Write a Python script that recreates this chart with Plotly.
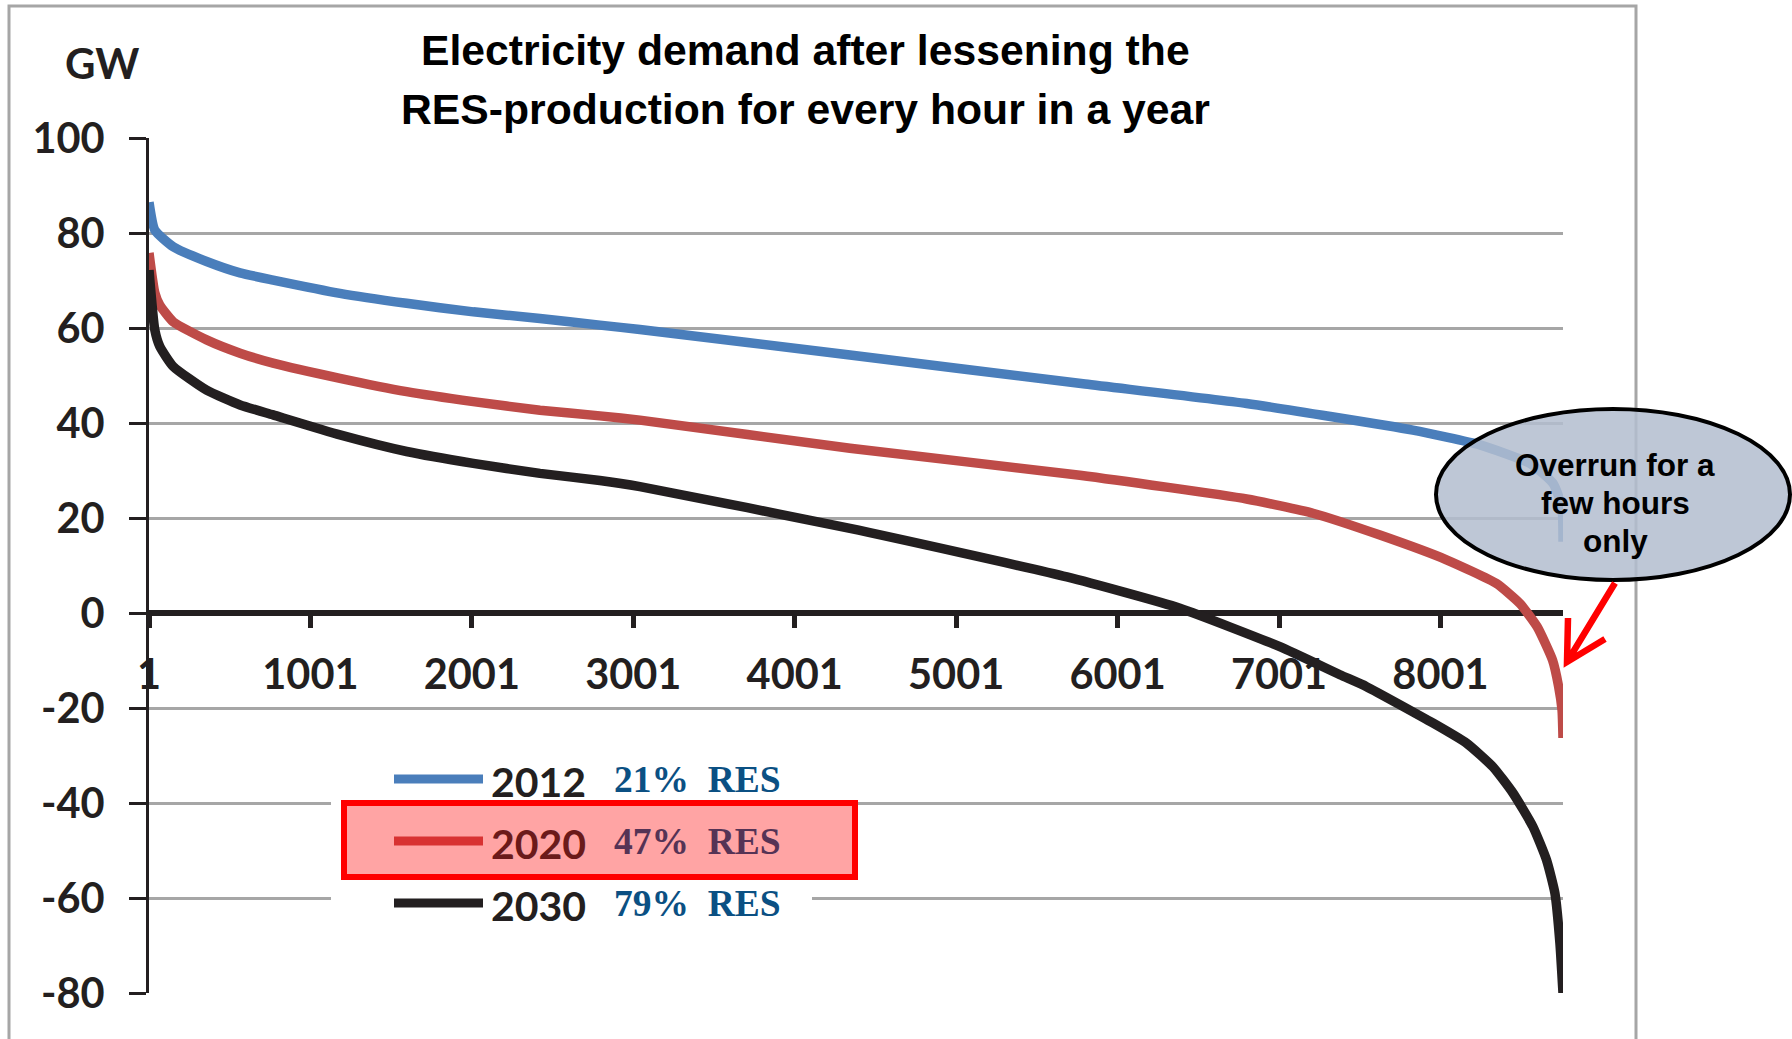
import plotly.graph_objects as go

# Residual load duration curves: hour of the year (sorted) vs. demand minus RES output
hours_2012 = [1, 37, 151, 358, 565, 770, 1184, 1597, 2010, 2423, 2794, 3042,
              4343, 5800, 6800, 7830, 8245, 8555, 8698, 8753, 8760]
gw_2012 = [86.5, 80.6, 77.1, 74, 71.6, 70.1, 67.3, 65.2, 63.4, 62, 60.6, 59.7,
           54.3, 48.2, 44.1, 38.5, 35.4, 31.5, 27.3, 22.4, 15]

hours_2020 = [1, 37, 68, 151, 358, 565, 770, 1184, 1597, 2010, 2423, 2794,
              3042, 4343, 5767, 6800, 7211, 7626, 8038, 8348, 8493, 8600, 8695,
              8733, 8754, 8760]
gw_2020 = [75.8, 67.4, 64.8, 61.3, 57.5, 54.7, 52.6, 49.4, 46.6, 44.5, 42.7,
           41.5, 40.6, 34.7, 29, 24, 21, 16.4, 11.2, 6.2, 2, -2.9, -9.9, -15.5,
           -20.4, -26.3]

hours_2030 = [1, 37, 68, 151, 358, 565, 770, 1184, 1597, 2010, 2423, 2794,
              3042, 4343, 5687, 6387, 7006, 7378, 7543, 7956, 8162, 8326, 8450,
              8574, 8658, 8710, 8741, 8760]
gw_2030 = [72.2, 59.6, 56.1, 51.9, 46.9, 43.8, 41.7, 37.5, 34, 31.5, 29.4,
           27.9, 26.6, 17.8, 7.6, 1, -7.1, -13, -15.5, -23.2, -27.4, -32.4,
           -37.9, -45, -52, -59, -69.5, -80]

years = ["2012", "2020", "2030"]
res_shares = ["21%  RES", "47%  RES", "79%  RES"]

x_ticks = [1, 1001, 2001, 3001, 4001, 5001, 6001, 7001, 8001]
y_ticks = [100, 80, 60, 40, 20, 0, -20, -40, -60, -80]
x_range = [1, 8760]
y_range = [-80, 100]

title_lines = ["Electricity demand after lessening the",
               "RES-production for every hour in a year"]
callout_lines = ["Overrun for a", "few hours", "only"]

# ---- figure geometry (pixels) ----
W, H = 1792, 1039
L, R, T, B = 149, 1563, 138, 993


def px(xp):
    return (xp - L) / (R - L)


def py(yp):
    return (B - yp) / (B - T)


line_colors = ["#4A7EBB", "#BE4B48", "#231F20"]
line_widths = [9.5, 9.5, 9.5]
key_colors = ["#4A7EBB", "#D83232", "#231F20"]
year_colors = ["#231F20", "#6B1A1A", "#231F20"]
share_colors = ["#0B5083", "#553355", "#0B5083"]

fig = go.Figure()
for name, hrs, vals, col, lw in zip(years, [hours_2012, hours_2020, hours_2030],
                                    [gw_2012, gw_2020, gw_2030], line_colors, line_widths):
    fig.add_trace(go.Scatter(
        x=hrs, y=vals, mode="lines", name=name, showlegend=False,
        line=dict(color=col, width=lw, shape="spline", smoothing=0.5),
        hoverinfo="x+y+name",
    ))

shapes = []
# outer frame
shapes.append(dict(type="rect", xref="paper", yref="paper",
                   x0=px(9), x1=px(1636), y0=py(1100), y1=py(6),
                   line=dict(color="#A6A6A6", width=3), fillcolor="rgba(0,0,0,0)",
                   layer="above"))
# white area behind the title
shapes.append(dict(type="rect", xref="paper", yref="paper",
                   x0=px(343), x1=px(1265), y0=py(150), y1=py(18),
                   line=dict(width=0), fillcolor="white", layer="above"))
# white area behind the legend
shapes.append(dict(type="rect", xref="paper", yref="paper",
                   x0=px(331), x1=px(812), y0=py(935), y1=py(750),
                   line=dict(width=0), fillcolor="white", layer="above"))

key_y = [779, 841, 903]
# legend keys (2012 and 2030 sit outside the highlight box)
for i in (0, 2):
    shapes.append(dict(type="line", xref="paper", yref="paper",
                       x0=px(394), x1=px(483), y0=py(key_y[i]), y1=py(key_y[i]),
                       line=dict(color=key_colors[i], width=9), layer="above"))
# highlight box around 2020
shapes.append(dict(type="rect", xref="paper", yref="paper",
                   x0=px(344), x1=px(855), y0=py(877), y1=py(803),
                   line=dict(color="#FF0000", width=6),
                   fillcolor="rgba(255,90,90,0.55)", layer="above"))
shapes.append(dict(type="line", xref="paper", yref="paper",
                   x0=px(394), x1=px(483), y0=py(key_y[1]), y1=py(key_y[1]),
                   line=dict(color=key_colors[1], width=9), layer="above"))

# callout ellipse
shapes.append(dict(type="circle", xref="paper", yref="paper",
                   x0=px(1436), x1=px(1790), y0=py(580), y1=py(409),
                   line=dict(color="black", width=4),
                   fillcolor="rgba(179,190,207,0.86)", layer="above"))
# red arrow from the callout to the 2020 curve
tip = (1567, 662)
arrow_path = (f"M {px(1615)},{py(583)} L {px(tip[0])},{py(tip[1])} "
              f"M {px(1568)},{py(618)} L {px(tip[0])},{py(tip[1])} L {px(1605)},{py(639)}")
shapes.append(dict(type="path", xref="paper", yref="paper", path=arrow_path,
                   line=dict(color="#FF0000", width=6.5), layer="above"))

annotations = []
for i, line in enumerate(title_lines):
    annotations.append(dict(text=f"<b>{line}</b>", xref="paper", yref="paper",
                            x=px(805), y=py([50, 109][i]), showarrow=False,
                            xanchor="center", yanchor="middle",
                            font=dict(family="Liberation Sans", size=42.7, color="black")))
annotations.append(dict(text="GW", xref="paper", yref="paper",
                        x=px(102), y=py(63), showarrow=False,
                        xanchor="center", yanchor="middle",
                        font=dict(family="Lato", size=42, color="#231F20", weight="bold")))
for i in range(3):
    annotations.append(dict(text=years[i], xref="paper", yref="paper",
                            x=px(489), y=py(key_y[i] + 2), showarrow=False,
                            xanchor="left", yanchor="middle",
                            font=dict(family="Lato", size=41, color=year_colors[i], weight="bold")))
    annotations.append(dict(text=res_shares[i], xref="paper", yref="paper",
                            x=px(612), y=py(key_y[i]), showarrow=False,
                            xanchor="left", yanchor="middle",
                            font=dict(family="Liberation Serif", size=37.5,
                                      color=share_colors[i], weight="bold")))
for i, line in enumerate(callout_lines):
    annotations.append(dict(text=line, xref="paper", yref="paper",
                            x=px(1615), y=py([465, 503, 541][i]), showarrow=False,
                            xanchor="center", yanchor="middle",
                            font=dict(family="Liberation Sans", size=31.5, color="black",
                                      weight="bold")))

fig.update_layout(
    width=W, height=H,
    margin=dict(l=L, r=W - R, t=T, b=H - B, pad=0),
    paper_bgcolor="white", plot_bgcolor="white",
    shapes=shapes, annotations=annotations,
    xaxis=dict(
        range=x_range, tickvals=x_ticks, ticktext=[str(v) for v in x_ticks],
        showgrid=False, zeroline=False,
        showline=True, linecolor="#231F20", linewidth=6,
        anchor="free", position=(0 - y_range[0]) / (y_range[1] - y_range[0]),
        ticks="outside", ticklen=12, tickwidth=5, tickcolor="#231F20",
        tickfont=dict(family="Lato", size=41.5, color="#231F20", weight="bold"),
        ticklabelstandoff=11, layer="below traces",
    ),
    yaxis=dict(
        range=y_range, tickvals=y_ticks, ticktext=[str(v) for v in y_ticks],
        showgrid=True, gridcolor="#A6A6A6", gridwidth=2.5, zeroline=False,
        showline=True, linecolor="#231F20", linewidth=3,
        ticks="outside", ticklen=17, tickwidth=3, tickcolor="#231F20",
        tickfont=dict(family="Lato", size=41.5, color="#231F20", weight="bold"),
        ticklabelstandoff=16, layer="below traces",
    ),
)

fig.write_html("out.html")
